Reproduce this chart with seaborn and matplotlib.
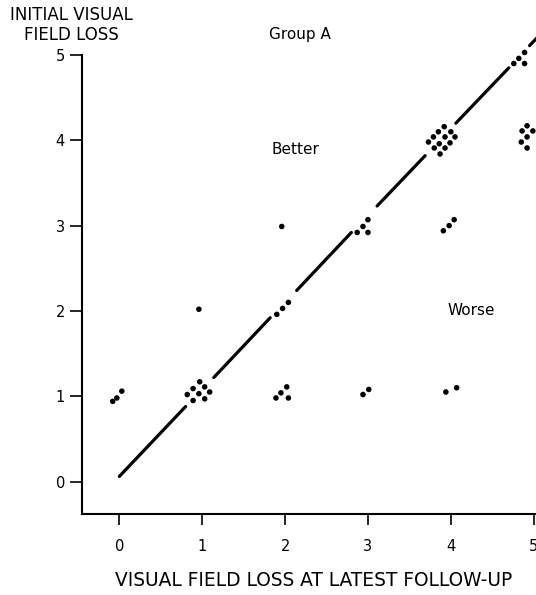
import matplotlib
matplotlib.use("Agg")
import matplotlib.pyplot as plt
import seaborn as sns
import pandas as pd

# scatter points (latest follow-up loss, initial loss), one row per patient
follow_up = [-0.08, -0.03, 0.03,
             0.82, 0.89, 0.97, 1.03, 0.96, 1.09, 0.89, 1.03,
             0.96,
             1.89, 1.95, 2.02, 2.04,
             1.90, 1.97, 2.04,
             1.96,
             2.94, 3.01,
             2.87, 2.94, 3.00, 3.00,
             3.94, 4.07,
             3.91, 3.98, 4.04,
             3.92, 4.00, 3.85, 3.79, 3.93, 4.05, 3.73, 3.86, 3.99, 3.80, 3.93, 3.87,
             4.92, 4.86, 4.99, 4.92, 4.85, 4.92,
             4.76, 4.82, 4.89, 4.89]
initial = [0.94, 0.98, 1.06,
           1.02, 1.09, 1.17, 1.11, 1.03, 1.05, 0.95, 0.97,
           2.02,
           0.98, 1.04, 1.11, 0.98,
           1.96, 2.03, 2.10,
           2.99,
           1.02, 1.08,
           2.92, 2.99, 3.07, 2.92,
           1.05, 1.10,
           2.94, 3.00, 3.07,
           4.16, 4.10, 4.10, 4.04, 4.04, 4.04, 3.98, 3.96, 3.97, 3.91, 3.91, 3.84,
           4.17, 4.11, 4.11, 4.04, 3.98, 3.91,
           4.90, 4.96, 5.03, 4.90]

# diagonal "no change" line, broken where the clusters sit
seg_id = [0, 0, 1, 1, 2, 2, 3, 3, 4, 4, 5, 5]
seg_x = [0.00, 0.80, 1.14, 1.82, 2.14, 2.80, 3.11, 3.69, 4.06, 4.70, 4.95, 5.40]
seg_y = [0.06, 0.88, 1.22, 1.92, 2.24, 2.92, 3.23, 3.82, 4.20, 4.85, 5.11, 5.57]

ticks = [0, 1, 2, 3, 4, 5]

pts = pd.DataFrame({"x": follow_up, "y": initial})
line = pd.DataFrame({"seg": seg_id, "x": seg_x, "y": seg_y})

sns.set_style("ticks")
plt.rcParams["font.family"] = ["DejaVu Sans"]
plt.rcParams["text.color"] = "black"

fig = plt.figure(figsize=(5.36, 5.95), dpi=100)
ax = fig.add_axes([81.7 / 536, 81 / 595, (600 - 81.7) / 536, 459 / 595])

sns.lineplot(data=line, x="x", y="y", units="seg", estimator=None,
             color="black", linewidth=2.3, ax=ax, clip_on=False)
sns.scatterplot(data=pts, x="x", y="y", color="black", s=16,
                edgecolor="none", ax=ax, clip_on=False)

ax.set_xlim(-0.454, 5.80)
ax.set_ylim(-0.38, 5.0)
ax.set_xticks(ticks)
ax.set_yticks(ticks)
ax.set_xlabel("VISUAL FIELD LOSS AT LATEST FOLLOW-UP", fontsize=13.4,
              color="black")
ax.xaxis.set_label_coords((313.5 - 81.7) / 518.3, -0.125)
ax.set_ylabel("")
sns.despine(ax=ax)
for s in ["left", "bottom"]:
    ax.spines[s].set_linewidth(1.5)
    ax.spines[s].set_color("black")
ax.tick_params(axis="both", direction="out", width=1.2, labelsize=10.5,
               colors="black")
ax.tick_params(axis="x", length=8, pad=10)
ax.tick_params(axis="y", length=9, pad=3)

ax.text(2.18, 5.24, "Group A", ha="center", va="center", fontsize=11,
        color="black")
ax.text(2.13, 3.89, "Better", ha="center", va="center", fontsize=11,
        color="black")
ax.text(4.25, 2.00, "Worse", ha="center", va="center", fontsize=11,
        color="black")

fig.text(71 / 536, 1 - 25 / 595, "INITIAL VISUAL\nFIELD LOSS", ha="center",
         va="center", fontsize=12, linespacing=1.15, color="black")

fig.savefig("out.png", dpi=100)
